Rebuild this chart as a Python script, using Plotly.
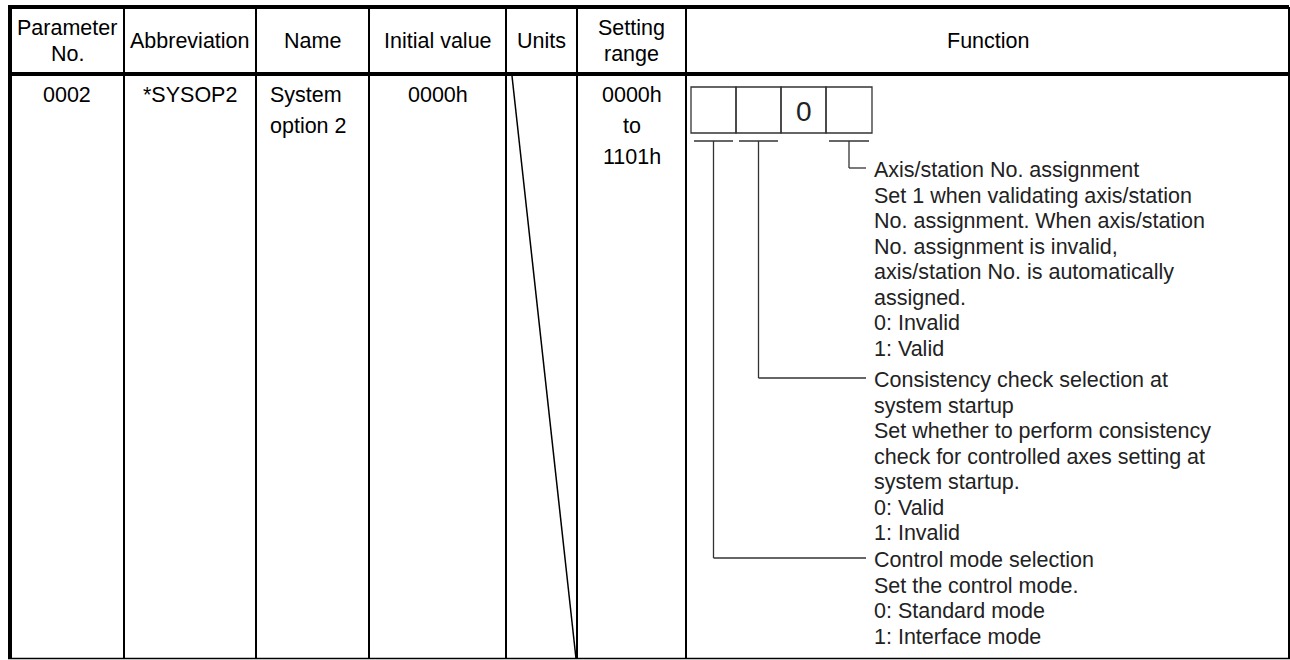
import plotly.graph_objects as go

# ---------------- data ----------------
header_labels = [["Parameter", "No."], ["Abbreviation"], ["Name"], ["Initial value"],
                 ["Units"], ["Setting", "range"], ["Function"]]
row_values = [["0002"], ["*SYSOP2"], ["System", "option 2"], ["0000h"], [], ["0000h", "to", "1101h"]]
row_align = ["center", "center", "left", "center", "center", "center"]
digit_values = ["", "", "0", ""]
function_blocks = [
    ["Axis/station No. assignment", "Set 1 when validating axis/station",
     "No. assignment. When axis/station", "No. assignment is invalid,",
     "axis/station No. is automatically", "assigned.", "0: Invalid", "1: Valid"],
    ["Consistency check selection at", "system startup",
     "Set whether to perform consistency", "check for controlled axes setting at",
     "system startup.", "0: Valid", "1: Invalid"],
    ["Control mode selection", "Set the control mode.", "0: Standard mode", "1: Interface mode"],
]
block_digit = [3, 1, 0]  # which digit box each description belongs to

# ---------------- layout constants ----------------
W, H = 1290, 660
X_EDGES = [10, 124, 256, 369, 506, 577, 686, 1289]
Y_TOP, Y_HEAD, Y_BOT = 7, 74, 658.5
FONT = "Liberation Sans, Arial, sans-serif"
FS = 21.5
BOX_X = [691, 736, 781, 826, 872]
BOX_Y0, BOX_Y1 = 87, 133
UNDER_Y = 141
TEXT_X = 872
BLOCK_Y = [170, 380, 560]
LINE_H = 25.5

shapes = []
annos = []

def line(x0, y0, x1, y1, w=2, c="black"):
    shapes.append(dict(type="line", xref="x", yref="y", x0=x0, y0=y0, x1=x1, y1=y1,
                       line=dict(color=c, width=w)))

def text(x, y, s, anchor="center", size=FS, color="#111111"):
    annos.append(dict(x=x, y=y, xref="x", yref="y", text=s, showarrow=False,
                      xanchor=anchor, yanchor="middle",
                      font=dict(family=FONT, size=size, color=color)))

# table frame
line(X_EDGES[0], Y_TOP, X_EDGES[-1], Y_TOP, 4)
line(X_EDGES[0], Y_HEAD, X_EDGES[-1], Y_HEAD, 4)
line(X_EDGES[0] - 2, Y_BOT, X_EDGES[-1] + 1, Y_BOT, 1.5)
line(X_EDGES[0], Y_TOP - 2, X_EDGES[0], Y_BOT, 4)
line(X_EDGES[-1], Y_TOP, X_EDGES[-1], Y_BOT, 2)
for xe in X_EDGES[1:-1]:
    line(xe, Y_TOP, xe, Y_BOT, 2)
# slash in Units cell
line(X_EDGES[4] + 6, Y_HEAD + 2, X_EDGES[5] - 1, Y_BOT, 1.5)

# header
hy = (Y_TOP + Y_HEAD) / 2
for i, lab in enumerate(header_labels):
    cx = (X_EDGES[i] + X_EDGES[i + 1]) / 2
    n = len(lab)
    for k, s in enumerate(lab):
        text(cx, hy + (k - (n - 1) / 2) * 26, s, color="#000000")

# data row
for i, vals in enumerate(row_values):
    if row_align[i] == "left":
        x, anc = X_EDGES[i] + 12, "left"
    else:
        x, anc = (X_EDGES[i] + X_EDGES[i + 1]) / 2, "center"
    for k, s in enumerate(vals):
        text(x, 95 + k * 31, s, anchor=anc, color="#000000")

# digit boxes
for i, v in enumerate(digit_values):
    shapes.append(dict(type="rect", xref="x", yref="y", x0=BOX_X[i], x1=BOX_X[i + 1],
                       y0=BOX_Y0, y1=BOX_Y1, line=dict(color="#333333", width=1.3)))
    if v:
        text((BOX_X[i] + BOX_X[i + 1]) / 2, (BOX_Y0 + BOX_Y1) / 2 + 1, v, size=28, color="#222222")

# connectors + descriptions
for b, lines_ in enumerate(function_blocks):
    d = block_digit[b]
    sx0, sx1 = BOX_X[d] + 3, BOX_X[d + 1] - 3
    line(sx0, UNDER_Y, sx1, UNDER_Y, 1.3, "#333333")
    vx = (sx0 + sx1) / 2
    ey = BLOCK_Y[b] - 2
    line(vx, UNDER_Y, vx, ey, 1.3, "#333333")
    line(vx, ey, TEXT_X - 6, ey, 1.3, "#333333")
    for k, s in enumerate(lines_):
        text(TEXT_X, BLOCK_Y[b] + k * LINE_H, s, anchor="left", color="#222222")

fig = go.Figure()
fig.update_layout(
    width=W, height=H, margin=dict(l=0, r=0, t=0, b=0),
    paper_bgcolor="white", plot_bgcolor="white",
    xaxis=dict(range=[0, W], visible=False, fixedrange=True),
    yaxis=dict(range=[H, 0], visible=False, fixedrange=True),
    shapes=shapes, annotations=annos, showlegend=False,
)
fig.write_html("out.html", config={"displayModeBar": False},
               post_script="document.body.style.margin='0';document.body.style.overflow='hidden';")
